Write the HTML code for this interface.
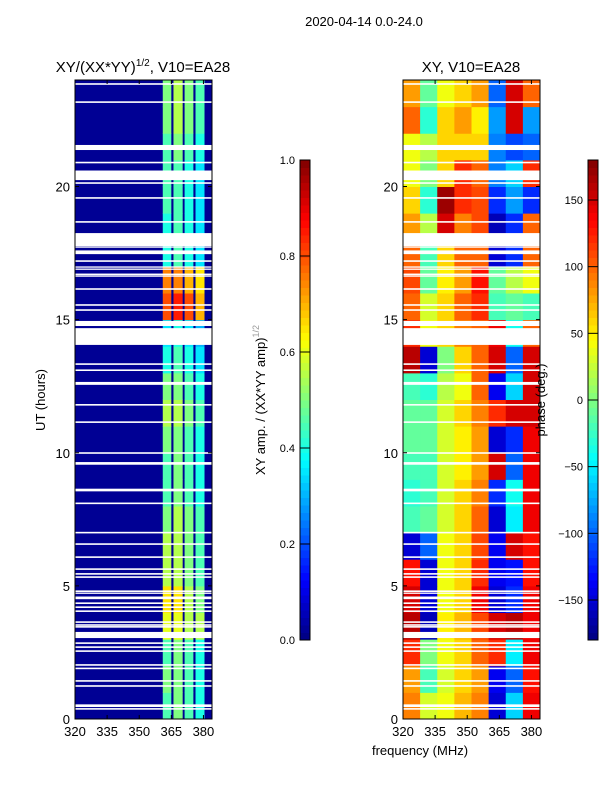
<!DOCTYPE html>
<html><head><meta charset="utf-8"><style>
body{margin:0;background:#fff;}
svg{display:block;font-family:"Liberation Sans",sans-serif;}
</style></head><body>
<svg id="fig" width="600" height="800" viewBox="0 0 600 800" xmlns="http://www.w3.org/2000/svg">
<text x="364" y="26" font-size="13" text-anchor="middle">2020-04-14 0.0-24.0</text>
<text x="143" y="72" font-size="15" text-anchor="middle">XY/(XX*YY)<tspan font-size="10" dy="-6">1/2</tspan><tspan dy="6">, V10=EA28</tspan></text>
<text x="471" y="72" font-size="15" text-anchor="middle">XY, V10=EA28</text>
<text transform="translate(45,400) rotate(-90)" font-size="13" text-anchor="middle">UT (hours)</text>
<text x="420" y="755" font-size="13" text-anchor="middle">frequency (MHz)</text>
<text transform="translate(265,400) rotate(-90)" font-size="13" text-anchor="middle">XY amp. / (XX*YY amp)<tspan font-size="9" fill="#999" dy="-6">1/2</tspan></text>
<g id="leftPanel"></g>
<g id="rightPanel"></g>
<g id="cbars"></g>
<text transform="translate(545,400) rotate(-90)" font-size="13" text-anchor="middle">phase (deg.)</text>
</svg>
<script>
// ---- data ----
const hours = [0,1,2,3,4,5,6,7,8,9,10,11,12,13,14,15,16,17,18,19,20,21,22,23];
const ampBackground = 0.02;
const ampStripeEdges = [[361,365],[366,370.3],[371.2,375.3],[376.3,380.5]];
const ampStripes = [
[0.45,0.5,0.45,0.4],[0.5,0.5,0.45,0.4],[0.45,0.5,0.45,0.4],[0.6,0.6,0.55,0.55],
[0.65,0.65,0.55,0.5],[0.55,0.55,0.5,0.45],[0.55,0.55,0.5,0.45],[0.5,0.55,0.5,0.45],
[0.45,0.5,0.45,0.4],[0.45,0.5,0.45,0.4],[0.5,0.5,0.45,0.4],[0.55,0.55,0.5,0.45],
[0.5,0.5,0.45,0.4],[0.4,0.45,0.4,0.35],[0.35,0.4,0.35,0.3],[0.8,0.85,0.8,0.7],
[0.75,0.75,0.7,0.65],[0.4,0.45,0.4,0.35],[0.4,0.45,0.4,0.35],[0.45,0.45,0.4,0.35],
[0.45,0.45,0.4,0.35],[0.45,0.5,0.45,0.4],[0.5,0.55,0.5,0.45],[0.5,0.55,0.5,0.45]];
const phaseFreqEdges = [320,328,336,344,352,360,368,376,384];
const phase = [
[90,30,40,70,90,-150,-60,140],[80,-20,30,60,80,-140,-100,130],[120,0,40,60,100,120,-50,140],
[160,-160,50,70,110,150,160,140],[150,-150,40,60,140,-150,-120,140],[130,-150,40,60,120,-140,-130,130],
[-150,-100,40,60,110,-140,150,130],[-20,-10,30,60,100,-150,-50,140],[-30,-20,30,60,90,-120,-40,140],
[-20,-20,30,50,80,150,-100,140],[-10,-10,30,50,80,-150,-120,140],[-10,-10,30,60,90,120,150,150],
[-20,-30,20,40,100,-140,-60,150],[160,-150,0,60,100,150,-100,150],[120,40,60,90,100,140,-40,100],
[100,30,60,100,120,-20,-10,-20],[110,-10,50,80,130,-10,20,40],[100,-20,60,100,100,-150,-120,100],
[80,20,150,90,110,-160,-120,100],[60,-30,170,120,110,-120,-80,-120],[40,0,60,120,100,-90,-60,120],
[40,20,60,60,60,-90,-110,-100],[100,-30,60,80,50,-80,150,-80],[80,-10,40,60,80,-100,150,100]];
const flags = [[23.82,23.88],[23.14,23.2],[21.37,21.56],[20.87,20.93],[20.24,20.6],[20.1,20.16],[19.54,19.6],
[18.64,18.7],[17.76,18.25],[17.7,17.75],[17.46,17.6],[17.17,17.23],[16.95,17.0],[16.87,16.92],[16.67,16.73],
[16.61,16.66],[16.12,16.18],[15.52,15.58],[15.33,15.39],[14.76,14.95],[14.05,14.68],[13.3,13.36],[13.07,13.13],
[12.55,12.66],[11.77,11.83],[11.12,11.18],[9.96,10.02],[9.55,9.65],[8.55,8.65],[8.07,8.13],[6.97,7.03],
[6.54,6.6],[6.05,6.11],[5.6,5.66],[5.42,5.48],[5.3,5.36],[4.77,4.83],[4.7,4.75],[4.5,4.6],[4.32,4.38],
[4.17,4.23],[4.02,4.08],[3.61,3.67],[3.5,3.56],[3.43,3.49],[3.04,3.27],[2.82,2.88],[2.67,2.73],[2.52,2.58],
[2.0,2.06],[1.87,1.93],[1.4,1.46],[1.21,1.27],[0.45,0.55],[0.35,0.41]];
const yTicks = [0,5,10,15,20];
const xTicks = [320,335,350,365,380];
const ampCbTicks = [0,0.2,0.4,0.6,0.8,1.0];
const phaseCbTicks = [-150,-100,-50,0,50,100,150];

// ---- helpers ----
const NS="http://www.w3.org/2000/svg";
function jet(v){v=Math.max(0,Math.min(1,v));
 const c=t=>Math.round(255*Math.max(0,Math.min(1,t)));
 const r=c(1.5-Math.abs(4*v-3)), g=c(1.5-Math.abs(4*v-2)), b=c(1.5-Math.abs(4*v-1));
 return `rgb(${r},${g},${b})`;}
function mk(tag,attrs,parent){const e=document.createElementNS(NS,tag);for(const k in attrs)e.setAttribute(k,attrs[k]);parent.appendChild(e);return e;}
const Y0=719,Y1=80;
const yS=h=>Y0-(h/24)*(Y0-Y1);
function panel(g,x0,x1,fillFn){
 const xS=f=>x0+(f-320)/(384-320)*(x1-x0);
 fillFn(xS);
 flags.forEach(fl=>{const r=mk('rect',{x:x0,y:yS(fl[1]),width:x1-x0,height:Math.max(1.2,yS(fl[0])-yS(fl[1])),fill:'#fff'},g);
  
  });
 mk('rect',{x:x0,y:Y1,width:x1-x0,height:Y0-Y1,fill:'none',stroke:'#000','stroke-width':1},g);
 yTicks.forEach(t=>{const y=yS(t);
  mk('line',{x1:x0,x2:x0+4,y1:y,y2:y,stroke:'#000'},g);mk('line',{x1:x1,x2:x1-4,y1:y,y2:y,stroke:'#000'},g);
  const tx=mk('text',{x:x0-5,y:y+5,'font-size':13,'text-anchor':'end'},g);tx.textContent=t;
  
  });
 xTicks.forEach(t=>{const x=xS(t);
  mk('line',{x1:x,x2:x,y1:Y0,y2:Y0-4,stroke:'#000'},g);mk('line',{x1:x,x2:x,y1:Y1,y2:Y1+4,stroke:'#000'},g);
  const tx=mk('text',{x:x,y:Y0+17,'font-size':13,'text-anchor':'middle'},g);tx.textContent=t;
  
  });
}
const L=document.getElementById('leftPanel'),R=document.getElementById('rightPanel'),C=document.getElementById('cbars');
panel(L,75,212,xS=>{
 mk('rect',{x:75,y:Y1,width:137,height:Y0-Y1,fill:jet(ampBackground)},L);
 hours.forEach((h,i)=>{ampStripeEdges.forEach((e,j)=>{
  const r=mk('rect',{x:xS(e[0]),y:yS(h+1),width:xS(e[1])-xS(e[0]),height:yS(h)-yS(h+1)+0.5,fill:jet(ampStripes[i][j])},L);
  
  });});
});
panel(R,403,540,xS=>{
 hours.forEach((h,i)=>{phase[i].forEach((v,j)=>{
  const r=mk('rect',{x:xS(phaseFreqEdges[j]),y:yS(h+1),width:xS(phaseFreqEdges[j+1])-xS(phaseFreqEdges[j])+0.5,height:yS(h)-yS(h+1)+0.5,fill:jet((v+180)/360)},R);
  
  });});
});
function cbar(x,ticks,lo,hi,fmt){
 const top=160,bot=640,n=64;
 for(let k=0;k<n;k++){mk('rect',{x:x,y:bot-(k+1)*(bot-top)/n,width:10,height:(bot-top)/n+0.5,fill:jet((k+0.5)/n)},C);}
 mk('rect',{x:x,y:top,width:10,height:bot-top,fill:'none',stroke:'#000'},C);
 ticks.forEach(t=>{const y=bot-(t-lo)/(hi-lo)*(bot-top);
  mk('line',{x1:x,x2:x+10,y1:y,y2:y,stroke:'#000'},C);
  const tx=mk('text',{x:x-5,y:y+4,'font-size':11,'text-anchor':'end'},C);tx.textContent=fmt(t);
  
  });
}
cbar(300,ampCbTicks,0,1,t=>t.toFixed(1));
cbar(588,phaseCbTicks,-180,180,t=>t<0?'\u2212'+(-t):String(t));
</script>
</body></html>
